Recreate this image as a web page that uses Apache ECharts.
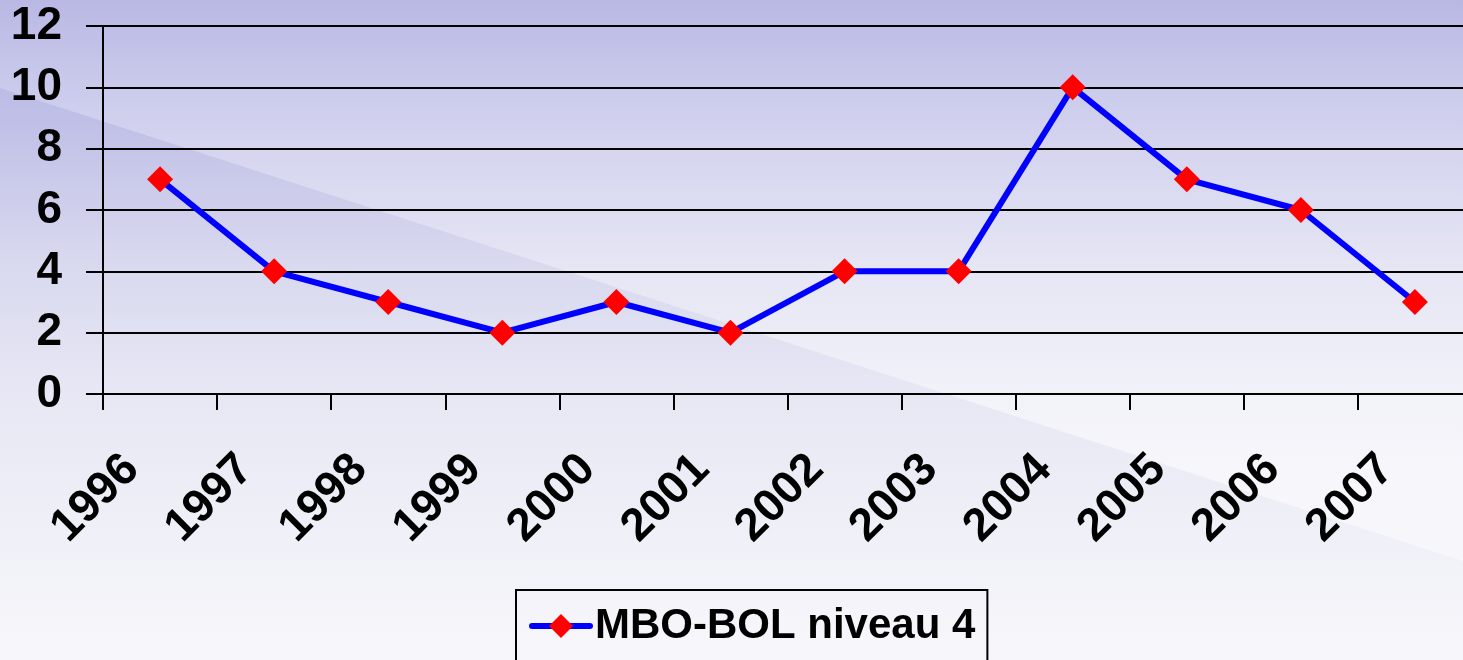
<!DOCTYPE html>
<html>
<head>
<meta charset="utf-8">
<script src="https://cdn.jsdelivr.net/npm/echarts@6/dist/echarts.min.js"></script>
<style>
html,body{margin:0;padding:0;width:1463px;height:660px;overflow:hidden;}
#chart{width:1463px;height:660px;}
</style>
</head>
<body>
<div id="chart"></div>
<script>
// Data
var years = ['1996','1997','1998','1999','2000','2001','2002','2003','2004','2005','2006','2007'];
var seriesName = 'MBO-BOL niveau 4';
var values = [7, 4, 3, 2, 3, 2, 4, 4, 10, 7, 6, 3];
var yMin = 0, yMax = 12, yStep = 2;

var FONT = '"Liberation Sans", Arial, sans-serif';
var chart = echarts.init(document.getElementById('chart'), null, {renderer: 'canvas'});
var option = {
  animation: false,
  backgroundColor: {
    type: 'linear', x: 0, y: 0, x2: 0, y2: 1,
    colorStops: [
      {offset: 0, color: '#b8b8e4'},
      {offset: 0.1, color: '#c6c6ea'},
      {offset: 0.2, color: '#d2d2ef'},
      {offset: 0.4, color: '#e5e5f4'},
      {offset: 0.6, color: '#f2f2f9'},
      {offset: 0.72, color: '#f6f6fb'},
      {offset: 1, color: '#f8f8fc'}
    ]
  },
  graphic: {
    elements: [{
      type: 'polygon',
      z: -10,
      silent: true,
      shape: {points: [[0, 88], [1463, 561], [1463, 660], [0, 660]]},
      style: {
        fill: {
          type: 'linear', x: 0, y: 0, x2: 0, y2: 1,
          colorStops: [
            {offset: 0, color: '#bcbce6'},
            {offset: 0.06, color: '#c0c0e7'},
            {offset: 0.3, color: '#d8d8ef'},
            {offset: 0.55, color: '#e8e8f5'},
            {offset: 0.67, color: '#ececf6'},
            {offset: 0.85, color: '#f2f2f9'},
            {offset: 1, color: '#f7f7fb'}
          ]
        }
      }
    }]
  },
  grid: {left: 103, right: -9, top: 26, bottom: 266, containLabel: false, outerBoundsMode: 'none'},
  legend: {
    left: 516, top: 590,
    borderColor: '#000', borderWidth: 2,
    padding: [15, 12, 40, 13],
    itemWidth: 58, itemHeight: 30,
    lineStyle: {width: 6, color: '#0000ff', cap: 'round'},
    textStyle: {fontFamily: FONT, fontWeight: 'bold', fontSize: 42, color: '#000'},
    data: [seriesName]
  },
  xAxis: {
    type: 'category',
    data: years,
    boundaryGap: true,
    axisLine: {lineStyle: {color: '#000', width: 2}},
    axisTick: {show: true, length: 16, interval: 0, lineStyle: {color: '#000', width: 2}},
    axisLabel: {
      interval: 0, rotate: 45, margin: 40,
      padding: [0, 40, 0, 0],
      fontFamily: FONT, fontWeight: 'bold', fontSize: 46, color: '#000'
    },
    splitLine: {show: false}
  },
  yAxis: {
    type: 'value',
    min: yMin, max: yMax, interval: yStep,
    axisLine: {show: true, lineStyle: {color: '#000', width: 2}},
    axisTick: {show: true, length: 17, lineStyle: {color: '#000', width: 2}},
    axisLabel: {margin: 41, fontFamily: FONT, fontWeight: 'bold', fontSize: 46, color: '#000'},
    splitLine: {show: true, lineStyle: {color: '#000', width: 2}}
  },
  series: [{
    name: seriesName,
    type: 'line',
    data: values,
    symbol: 'diamond',
    symbolSize: 26,
    lineStyle: {color: '#0000ff', width: 6},
    itemStyle: {color: '#ff0000', borderWidth: 0}
  }]
};
chart.setOption(option);
</script>
</body>
</html>
